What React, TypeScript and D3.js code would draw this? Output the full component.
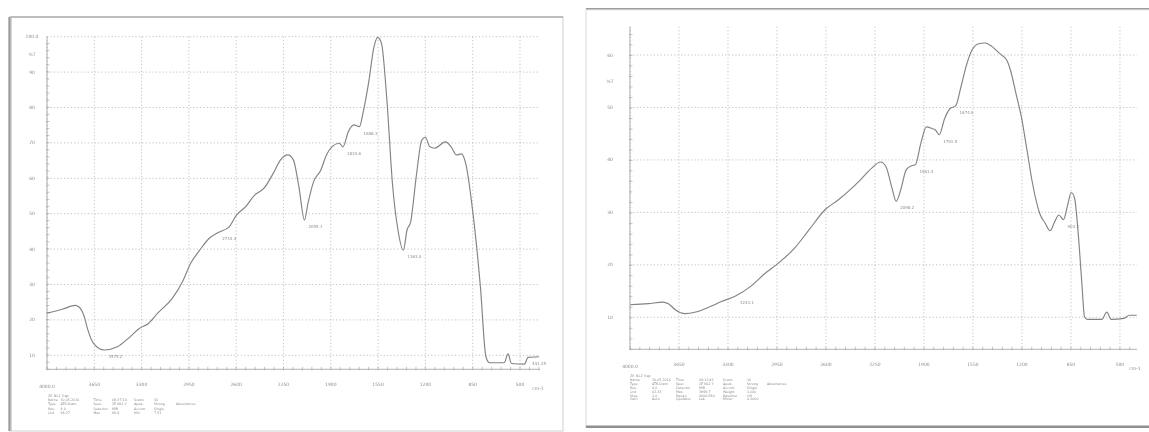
import * as d3 from 'd3'

// two scanned FTIR plots
const xTicks = [4000, 3650, 3300, 2950, 2600, 2250, 1900, 1550, 1200, 850, 500]
const xTickLabels = ['4000.0', '3650', '3300', '2950', '2600', '2250', '1900', '1550', '1200', '850', '500']

const leftYTicks = [10, 20, 30, 40, 50, 60, 70, 80, 90, 100]
const leftYLabels = ['10', '20', '30', '40', '50', '60', '70', '80', '90', '100.0']
const rightYTicks = [10, 20, 30, 40, 50, 60]
const rightYLabels = ['10', '20', '30', '40', '50', '60']

const leftWn = [4000, 3887, 3791, 3765, 3724, 3697, 3656, 3575, 3480, 3398, 3317, 3249, 3181, 3073, 2991, 2937, 2870, 2801, 2733, 2652, 2598, 2530, 2462, 2394, 2326, 2272, 2218, 2177, 2136, 2095, 2069, 2028, 1974, 1932, 1892, 1838, 1810, 1770, 1729, 1688, 1662, 1621, 1580, 1553, 1525, 1485, 1444, 1403, 1363, 1336, 1309, 1268, 1227, 1200, 1167, 1132, 1051, 1010, 970, 934, 902, 848, 793, 752, 725, 617, 589, 563, 467, 441, 359]
const leftT = [21.9, 23.0, 24.1, 23.7, 20.9, 17.1, 13.4, 11.5, 12.4, 14.8, 17.6, 19.0, 21.9, 26.1, 31.3, 36.0, 39.7, 43.0, 44.7, 46.3, 49.6, 52.0, 55.3, 57.2, 61.4, 65.2, 66.6, 65.2, 57.6, 48.2, 52.9, 59.0, 62.3, 66.6, 68.9, 69.9, 68.9, 73.2, 75.1, 74.6, 78.4, 86.8, 97.2, 99.8, 98.1, 82.1, 58.6, 45.4, 39.7, 45.4, 47.7, 60.4, 70.8, 71.6, 68.9, 68.5, 70.3, 68.9, 66.6, 66.9, 64.2, 50.1, 29.4, 9.6, 7.9, 7.9, 10.4, 7.7, 7.5, 9.4, 9.6]

const rightWn = [4000, 3870, 3766, 3726, 3674, 3609, 3530, 3426, 3347, 3243, 3138, 3034, 2955, 2824, 2720, 2607, 2511, 2354, 2275, 2210, 2171, 2131, 2098, 2066, 2027, 1988, 1961, 1922, 1883, 1844, 1818, 1791, 1752, 1713, 1674, 1635, 1596, 1556, 1504, 1465, 1413, 1360, 1308, 1282, 1243, 1204, 1164, 1125, 1073, 1033, 999, 968, 936, 903, 876, 848, 824, 798, 772, 753, 733, 629, 594, 563, 471, 432, 380]
const rightT = [12.4, 12.6, 12.9, 12.6, 11.4, 10.7, 11.0, 12.05, 13.0, 14.1, 15.9, 18.4, 20.0, 23.2, 26.7, 30.5, 32.4, 36.2, 38.4, 39.6, 38.7, 34.9, 32.1, 34.3, 38.1, 38.9, 39.1, 43.2, 46.3, 46.0, 45.7, 44.8, 47.9, 49.8, 50.3, 54.0, 58.1, 61.0, 62.2, 62.3, 61.6, 60.3, 59.0, 57.1, 52.7, 48.2, 41.9, 35.6, 29.8, 27.9, 26.5, 28.1, 29.5, 28.6, 31.1, 33.8, 32.7, 26.0, 16.5, 10.1, 9.6, 9.6, 11.0, 9.6, 9.8, 10.4, 10.4]

const leftPeakWn = [3575, 2733, 2095, 1810, 1688, 1363, 441]
const leftPeakT = [11.5, 44.7, 48.2, 68.9, 74.6, 39.7, 9.4]
const leftPeakLabels = ['3575.2', '2733.4', '2095.1', '1810.6', '1688.3', '1363.0', '441.25']

const rightPeakWn = [3243, 2098, 1961, 1791, 1674, 903]
const rightPeakT = [14.1, 32.1, 39.1, 44.8, 50.3, 28.6]
const rightPeakLabels = ['3243.1', '2098.2', '1961.4', '1791.5', '1674.0', '903.2']

const leftFooter = [
  ['Name', '30.05.2016', 'Time', '08:37:14', 'Scans', '16'],
  ['Type', 'ATR-Diam', 'Spec', '2E NL1 Y', 'Apod.', 'Strong', 'Absorbance'],
  ['Res.', '4.0', 'Detector', 'MIR', 'Accum.', 'Single'],
  ['Ord', '98.27', 'Max', '99.8', 'Min', '7.51'],
]
const rightFooter = [
  ['Name', '30.05.2016', 'Time', '09:12:41', 'Scans', '16'],
  ['Type', 'ATR-Diam', 'Spec', '2E NL2 Y', 'Apod.', 'Strong', 'Absorbance'],
  ['Res.', '4.0', 'Detector', 'MIR', 'Accum.', 'Single'],
  ['Ord', '62.33', 'Max', '3999.7', 'Weight', '1.000'],
  ['Step', '1.0', 'Range', '4000/380', 'Baseline', 'Off'],
  ['Gain', 'Auto', 'Operator', 'Lab', 'Mirror', '0.2000'],
]

const ink = '#8d8d8d'
const font = '"DejaVu Sans", sans-serif'

type PanelProps = {
  wn: number[]
  t: number[]
  xDomain: [number, number]
  xRange: [number, number]
  yDomain: [number, number]
  yRange: [number, number]
  yTicks: number[]
  yLabels: string[]
  yLabelX: number
  peakWn: number[]
  peakT: number[]
  peakLabels: string[]
  xLabelY: number
  footer: string[][]
  footerTitle: string
  footerX: number[]
  footerY: number
  footerDy: number
}

function Panel(p: PanelProps) {
  const x = d3.scaleLinear().domain(p.xDomain).range(p.xRange)
  const y = d3.scaleLinear().domain(p.yDomain).range(p.yRange)
  const [x0, x1] = p.xRange
  const [yb, yt] = p.yRange
  const pts = p.wn.map((w, i) => [x(w), y(p.t[i])] as [number, number])
  const line = d3.line().curve(d3.curveMonotoneX)(pts) || ''
  const step = x(xTicks[1]) - x(xTicks[0])
  const ystep = y(p.yTicks[0]) - y(p.yTicks[1])
  const minorX = d3.range(x0, x1, step / 5)
  const minorY = d3.range(yb, yt, -ystep / 5)
  return (
    <g>
      {xTicks.map((v) => (
        <line key={'gx' + v} x1={x(v)} x2={x(v)} y1={yt} y2={yb} stroke="#b4b4b4" strokeWidth={0.8} strokeDasharray="1.2 2.2" />
      ))}
      {p.yTicks.map((v) => (
        <line key={'gy' + v} x1={x0} x2={x1} y1={y(v)} y2={y(v)} stroke="#b4b4b4" strokeWidth={0.8} strokeDasharray="1.2 2.2" />
      ))}
      <line x1={x0} x2={x1} y1={yb} y2={yb} stroke="#a0a0a0" strokeWidth={0.8} />
      <line x1={x0} x2={x0} y1={yb} y2={yt} stroke="#a0a0a0" strokeWidth={0.8} />
      {minorX.map((v, i) => (
        <line key={'mx' + i} x1={v} x2={v} y1={yb - 2.5} y2={yb + 1} stroke="#a0a0a0" strokeWidth={0.6} />
      ))}
      {minorY.map((v, i) => (
        <line key={'my' + i} x1={x0 - 1} x2={x0 + 2.5} y1={v} y2={v} stroke="#a0a0a0" strokeWidth={0.6} />
      ))}
      {xTicks.map((v, i) => (
        <text key={'xl' + v} x={x(v)} y={p.xLabelY + (i === 0 ? 2 : 0)} fontSize={4.5} textAnchor="middle" fill={ink} fontFamily={font}>
          {xTickLabels[i]}
        </text>
      ))}
      <text x={x1 - 2} y={p.xLabelY + 4} fontSize={4.5} textAnchor="middle" fill={ink} fontFamily={font}>
        cm-1
      </text>
      {p.yTicks.map((v, i) => (
        <text key={'yl' + v} x={p.yLabelX} y={y(v) + 1.5} fontSize={4.5} textAnchor="middle" fill={ink} fontFamily={font}>
          {p.yLabels[i]}
        </text>
      ))}
      <text x={p.yLabelX} y={y(p.yTicks[p.yTicks.length - 1]) + ystep / 2 + 1.5} fontSize={4.5} textAnchor="middle" fill={ink} fontFamily={font}>
        %T
      </text>
      <path d={line} fill="none" stroke="#838383" strokeWidth={1.15} strokeLinejoin="round" />
      {p.peakWn.map((w, i) => (
        <text key={'pk' + i} x={x(w) + 4} y={y(p.peakT[i]) + 8} fontSize={4} fill={ink} fontFamily={font}>
          {p.peakLabels[i]}
        </text>
      ))}
      <text x={p.footerX[0]} y={p.footerY} fontSize={3.6} fill={ink} fontFamily={font}>
        {p.footerTitle}
      </text>
      {p.footer.map((row, r) =>
        row.map((cell, c) => (
          <text key={'f' + r + '-' + c} x={p.footerX[c]} y={p.footerY + (r + 1) * p.footerDy} fontSize={3.3} fill={ink} fontFamily={font}>
            {cell}
          </text>
        ))
      )}
    </g>
  )
}

export default function App() {
  return (
    <svg width={1149} height={432} style={{ position: 'absolute', left: 0, top: 0, background: '#fff' }}>
      <defs>
        <filter id="soft">
          <feGaussianBlur stdDeviation="0.35" />
        </filter>
        <linearGradient id="shadeL" x1="0" x2="1">
          <stop offset="0" stopColor="#7d7d7d" />
          <stop offset="1" stopColor="#e6e6e6" />
        </linearGradient>
        <linearGradient id="shadeT" x1="0" x2="0" y1="0" y2="1">
          <stop offset="0" stopColor="#8a8a8a" />
          <stop offset="1" stopColor="#eeeeee" />
        </linearGradient>
      </defs>
      <rect width={1149} height={432} fill="#fff" />
      <g filter="url(#soft)">
        {/* left sheet */}
        <rect x={10} y={17} width={553} height={414} fill="#fff" stroke="#cfcfcf" strokeWidth={1} />
        <rect x={8.5} y={17} width={3.5} height={414} fill="url(#shadeL)" />
        <rect x={10} y={16} width={553} height={2} fill="#bdbdbd" />
        {/* right sheet */}
        <rect x={586} y={9} width={600} height={418} fill="#fff" stroke="#dadada" strokeWidth={1} />
        <rect x={586} y={8} width={600} height={2.5} fill="url(#shadeT)" />
        <rect x={586} y={425.5} width={600} height={2.5} fill="#8f8f8f" />
        <Panel
          wn={leftWn}
          t={leftT}
          xDomain={[4000, 352]}
          xRange={[47, 540]}
          yDomain={[6.05, 100]}
          yRange={[369.3, 36.7]}
          yTicks={leftYTicks}
          yLabels={leftYLabels}
          yLabelX={32}
          peakWn={leftPeakWn}
          peakT={leftPeakT}
          peakLabels={leftPeakLabels}
          xLabelY={386}
          footer={leftFooter}
          footerTitle="2E NL1 Y.sp"
          footerX={[48, 60.5, 93.5, 112, 134, 154, 176]}
          footerY={397}
          footerDy={4.2}
        />
        <Panel
          wn={rightWn}
          t={rightT}
          xDomain={[4000, 378]}
          xRange={[630, 1137]}
          yDomain={[3.9, 65.4]}
          yRange={[349.3, 26.7]}
          yTicks={rightYTicks}
          yLabels={rightYLabels}
          yLabelX={610}
          peakWn={rightPeakWn}
          peakT={rightPeakT}
          peakLabels={rightPeakLabels}
          xLabelY={366}
          footer={rightFooter}
          footerTitle="2E NL2 Y.sp"
          footerX={[630, 652, 676, 699, 723, 747, 767]}
          footerY={377}
          footerDy={3.9}
        />
      </g>
    </svg>
  )
}
